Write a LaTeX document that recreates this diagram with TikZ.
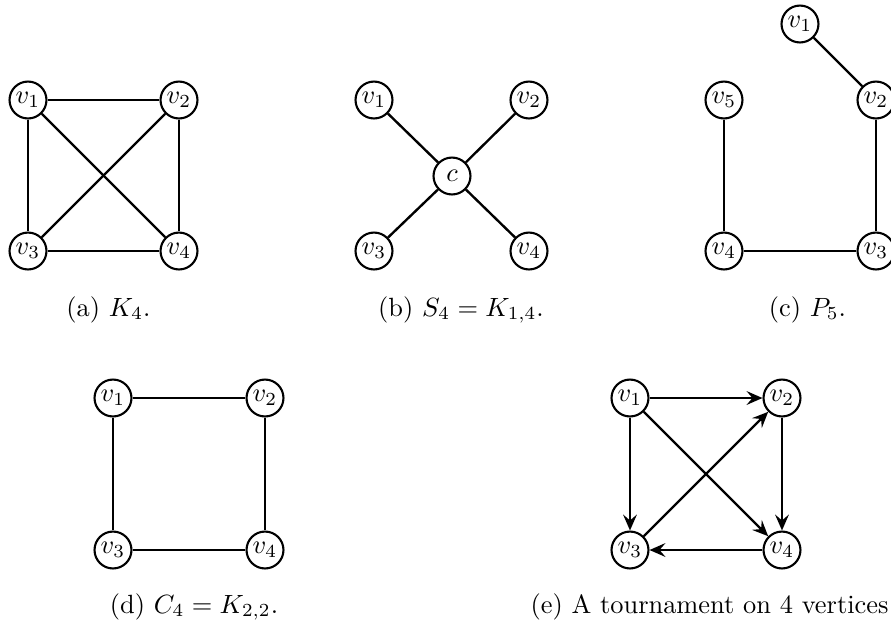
\documentclass[tikz,border=0pt]{standalone}
\usetikzlibrary{arrows.meta}
\tikzset{
  vert/.style={circle,draw,line width=0.8pt,minimum size=14pt,inner sep=0pt,fill=white},
  edge/.style={line width=0.9pt},
  arc/.style={line width=0.9pt,-{Stealth[length=6pt,width=5.2pt,inset=2.2pt]}},
  subcap/.style={anchor=base}
}
\begin{document}
\begin{tikzpicture}[x=0.379pt,y=-0.379pt]
\useasboundingbox (0,0) rectangle (891,626);
% (a) K4
\node[vert] (a1) at (28,100) {$v_1$};
\node[vert] (a2) at (179,100) {$v_2$};
\node[vert] (a3) at (28,251) {$v_3$};
\node[vert] (a4) at (179,251) {$v_4$};
\draw[edge] (a1) -- (a2);
\draw[edge] (a1) -- (a3);
\draw[edge] (a1) -- (a4);
\draw[edge] (a2) -- (a3);
\draw[edge] (a2) -- (a4);
\draw[edge] (a3) -- (a4);
\node[subcap] (capa) at (108.5,316) {(a) $K_4$.};
% (b) S4
\node[vert] (b1) at (374,100) {$v_1$};
\node[vert] (b2) at (529,100) {$v_2$};
\node[vert] (bc) at (452,176) {$c$};
\node[vert] (b3) at (374,251) {$v_3$};
\node[vert] (b4) at (529,251) {$v_4$};
\draw[edge] (b1) -- (bc);
\draw[edge] (b2) -- (bc);
\draw[edge] (b3) -- (bc);
\draw[edge] (b4) -- (bc);
\node[subcap] (capb) at (461,316) {(b) $S_4=K_{1,4}$.};
% (c) P5
\node[vert] (c1) at (800,24) {$v_1$};
\node[vert] (c5) at (724,100) {$v_5$};
\node[vert] (c2) at (876,100) {$v_2$};
\node[vert] (c4) at (724,251) {$v_4$};
\node[vert] (c3) at (876,251) {$v_3$};
\draw[edge] (c1) -- (c2);
\draw[edge] (c2) -- (c3);
\draw[edge] (c3) -- (c4);
\draw[edge] (c4) -- (c5);
\node[subcap] (capc) at (807.5,316) {(c) $P_5$.};
% (d) C4
\node[vert] (d1) at (113,398) {$v_1$};
\node[vert] (d2) at (265,398) {$v_2$};
\node[vert] (d3) at (113,550) {$v_3$};
\node[vert] (d4) at (265,550) {$v_4$};
\draw[edge] (d1) -- (d2);
\draw[edge] (d2) -- (d4);
\draw[edge] (d4) -- (d3);
\draw[edge] (d3) -- (d1);
\node[subcap] (capd) at (194,613) {(d) $C_4=K_{2,2}$.};
% (e) tournament
\node[vert] (e1) at (630,398) {$v_1$};
\node[vert] (e2) at (782,398) {$v_2$};
\node[vert] (e3) at (630,550) {$v_3$};
\node[vert] (e4) at (782,550) {$v_4$};
\draw[arc] (e1) -- (e2);
\draw[arc] (e1) -- (e3);
\draw[arc] (e1) -- (e4);
\draw[arc] (e2) -- (e4);
\draw[arc] (e3) -- (e2);
\draw[arc] (e4) -- (e3);
\node[subcap] (cape) at (709.5,613) {(e) A tournament on 4 vertices};
\end{tikzpicture}
\end{document}
